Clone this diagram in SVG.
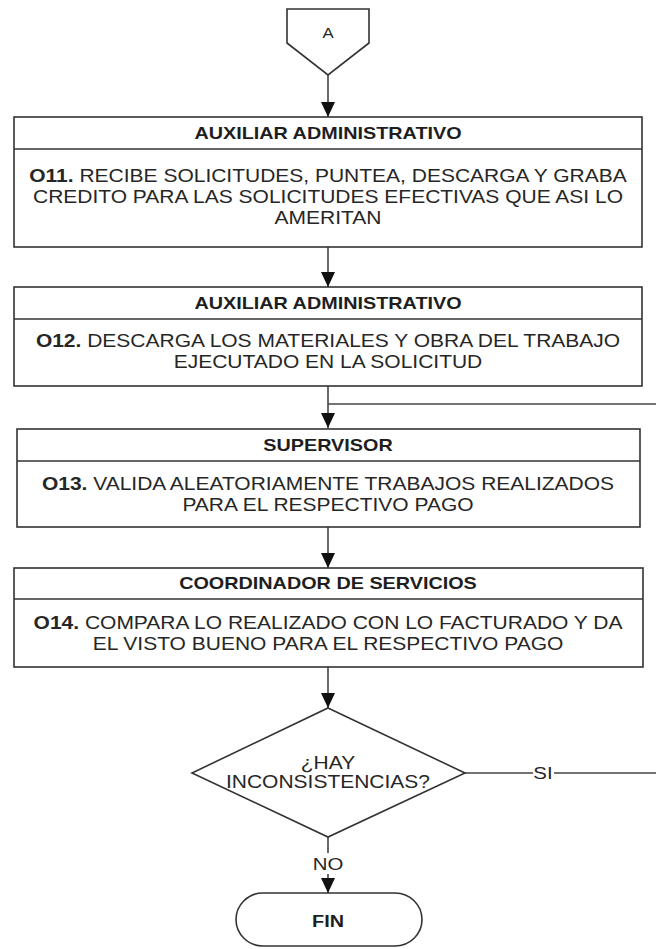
<svg xmlns="http://www.w3.org/2000/svg" width="656" height="949" viewBox="0 0 656 949">
<style>
.box{fill:#fff;stroke:#333;stroke-width:1.6}
.div{stroke:#333;stroke-width:1.4}
.con{fill:none;stroke:#444;stroke-width:1.6}
.hd{font-family:"Liberation Sans",Arial,sans-serif;font-size:16.5px;font-weight:bold;fill:#1e1e1e;text-anchor:middle}
.tx{font-family:"Liberation Sans",Arial,sans-serif;font-size:17.5px;fill:#262626;text-anchor:middle}
.b{font-weight:bold}
.lbl{font-family:"Liberation Sans",Arial,sans-serif;font-size:17px;fill:#262626;text-anchor:middle}
</style>
<defs>
<marker id="ah" viewBox="0 0 15 14" markerWidth="15" markerHeight="14" refX="15" refY="7" orient="auto" markerUnits="userSpaceOnUse">
<path d="M0,0 L15,7 L0,14 z" fill="#111"/>
</marker>
</defs>
<rect width="656" height="949" fill="#fff"/>

<g id="connectors">
<line class="con" x1="328" y1="75" x2="328" y2="117" marker-end="url(#ah)"/>
<line class="con" x1="328" y1="247" x2="328" y2="287" marker-end="url(#ah)"/>
<line class="con" x1="328" y1="386" x2="328" y2="428" marker-end="url(#ah)"/>
<line class="con" x1="328" y1="404" x2="656" y2="404"/>
<line class="con" x1="328" y1="527" x2="328" y2="568" marker-end="url(#ah)"/>
<line class="con" x1="328" y1="667" x2="328" y2="708" marker-end="url(#ah)"/>
<line class="con" x1="465" y1="773" x2="533" y2="773"/>
<line class="con" x1="554" y1="773" x2="656" y2="773"/>
<text class="lbl" x="543" y="779" transform="matrix(1.2 0 0 1 -108.6 0)">SI</text>
<line class="con" x1="328" y1="837" x2="328" y2="853"/>
<line class="con" x1="328" y1="874" x2="328" y2="893" marker-end="url(#ah)"/>
<text class="lbl" x="328" y="870" transform="matrix(1.2 0 0 1 -65.6 0)">NO</text>
</g>

<g id="nA">
<path class="box" d="M287,9 L369,9 L369,43 L328,75 L287,43 z"/>
<text class="lbl" x="328" y="38" style="font-size:14px" transform="matrix(1.2 0 0 1 -65.6 0)">A</text>
</g>

<g id="o11">
<rect class="box" x="14" y="117" width="628" height="130"/>
<line class="div" x1="14" y1="149" x2="642" y2="149"/>
<g transform="matrix(1.2 0 0 1 -65.6 0)">
<text class="hd" x="328" y="139">AUXILIAR ADMINISTRATIVO</text>
<text class="tx" x="328" y="182"><tspan class="b">O11.</tspan> RECIBE SOLICITUDES, PUNTEA, DESCARGA Y GRABA</text>
<text class="tx" x="328" y="203">CREDITO PARA LAS SOLICITUDES EFECTIVAS QUE ASI LO</text>
<text class="tx" x="328" y="224">AMERITAN</text>
</g>
</g>

<g id="o12">
<rect class="box" x="14" y="287" width="628" height="99"/>
<line class="div" x1="14" y1="319" x2="642" y2="319"/>
<g transform="matrix(1.2 0 0 1 -65.6 0)">
<text class="hd" x="328" y="309">AUXILIAR ADMINISTRATIVO</text>
<text class="tx" x="328" y="347"><tspan class="b">O12.</tspan> DESCARGA LOS MATERIALES Y OBRA DEL TRABAJO</text>
<text class="tx" x="328" y="368">EJECUTADO EN LA SOLICITUD</text>
</g>
</g>

<g id="o13">
<rect class="box" x="17" y="429" width="623" height="98"/>
<line class="div" x1="17" y1="461" x2="640" y2="461"/>
<g transform="matrix(1.2 0 0 1 -65.6 0)">
<text class="hd" x="328" y="451">SUPERVISOR</text>
<text class="tx" x="328" y="490"><tspan class="b">O13.</tspan> VALIDA ALEATORIAMENTE TRABAJOS REALIZADOS</text>
<text class="tx" x="328" y="511">PARA EL RESPECTIVO PAGO</text>
</g>
</g>

<g id="o14">
<rect class="box" x="14" y="568" width="629" height="99"/>
<line class="div" x1="14" y1="599" x2="643" y2="599"/>
<g transform="matrix(1.2 0 0 1 -65.6 0)">
<text class="hd" x="328" y="589.5">COORDINADOR DE SERVICIOS</text>
<text class="tx" x="328" y="629"><tspan class="b">O14.</tspan> COMPARA LO REALIZADO CON LO FACTURADO Y DA</text>
<text class="tx" x="328" y="650">EL VISTO BUENO PARA EL RESPECTIVO PAGO</text>
</g>
</g>

<g id="decision">
<path class="box" d="M328,708 L465,773 L328,837 L192,773 z"/>
<g transform="matrix(1.2 0 0 1 -65.6 0)">
<text class="tx" x="328" y="769">¿HAY</text>
<text class="tx" x="328" y="788">INCONSISTENCIAS?</text>
</g>
</g>

<g id="fin">
<rect class="box" x="236" y="893" width="186" height="53" rx="27" ry="26.5"/>
<text class="hd" x="328" y="927" transform="matrix(1.2 0 0 1 -65.6 0)">FIN</text>
</g>
</svg>
